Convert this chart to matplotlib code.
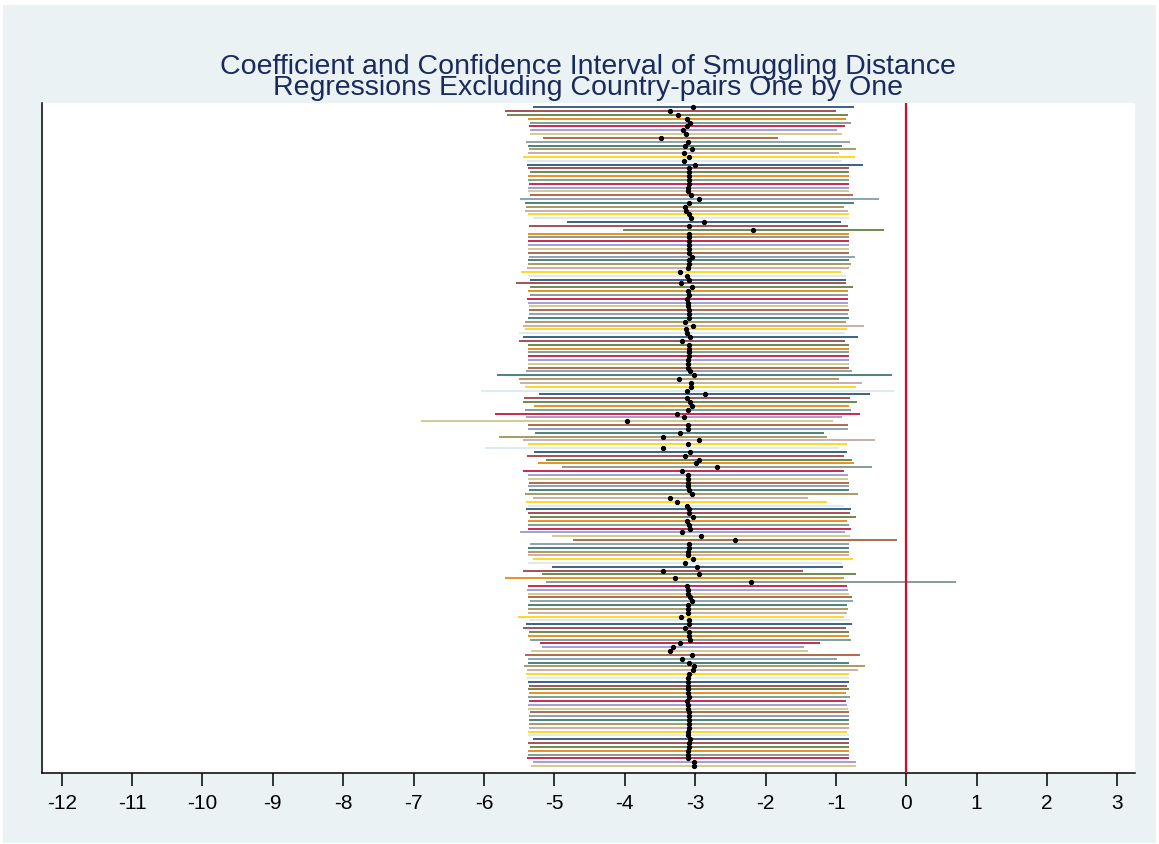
import matplotlib
matplotlib.use("Agg")
import matplotlib.pyplot as plt
from matplotlib.patches import Rectangle

# Stata s2color pens, cycled over the specifications
palette = ["#1a476f", "#90353b", "#55752f", "#e37e00", "#6e8e84",
           "#c10534", "#938dd2", "#cac27e", "#a0522d", "#7b92a8",
           "#2d6d66", "#9c8847", "#bfa19c", "#ffd200", "#d9e6eb"]

# point estimates, listed from the top specification to the bottom one
coef = [-3.03, -3.35, -3.25, -3.12, -3.07, -3.11, -3.17, -3.13, -3.49, -3.10,
        -3.14, -3.04, -3.16, -3.09, -3.16, -3.00, -3.09, -3.08, -3.09, -3.09,
        -3.09, -3.10, -3.10, -3.06, -2.94, -3.08, -3.14, -3.13, -3.09, -3.06,
        -2.88, -3.09, -2.18, -3.09, -3.09, -3.09, -3.09, -3.09, -3.09, -3.04,
        -3.09, -3.08, -3.10, -3.21, -3.12, -3.09, -3.20, -3.05, -3.10, -3.09,
        -3.11, -3.10, -3.10, -3.09, -3.09, -3.09, -3.14, -3.03, -3.13, -3.11,
        -3.07, -3.19, -3.09, -3.09, -3.09, -3.09, -3.10, -3.10, -3.10, -3.07,
        -3.01, -3.23, -3.06, -3.06, -3.11, -2.86, -3.12, -3.07, -3.05, -3.10,
        -3.26, -3.16, -3.97, -3.10, -3.10, -3.22, -3.46, -2.95, -3.10, -3.46,
        -3.07, -3.14, -2.95, -2.99, -2.69, -3.18, -3.10, -3.10, -3.10, -3.10,
        -3.09, -3.05, -3.35, -3.26, -3.12, -3.09, -3.09, -3.03, -3.11, -3.09,
        -3.07, -3.18, -2.92, -2.43, -3.08, -3.09, -3.10, -3.10, -3.03, -3.14,
        -2.97, -3.45, -2.95, -3.29, -2.21, -3.11, -3.10, -3.10, -3.07, -3.04,
        -3.10, -3.10, -3.10, -3.20, -3.08, -3.08, -3.15, -3.09, -3.09, -3.07,
        -3.21, -3.32, -3.36, -3.04, -3.18, -3.09, -3.01, -3.03, -3.09, -3.10,
        -3.10, -3.10, -3.10, -3.10, -3.08, -3.11, -3.10, -3.10, -3.09, -3.09,
        -3.09, -3.09, -3.09, -3.10, -3.10, -3.07, -3.09, -3.09, -3.10, -3.10,
        -3.10, -3.02, -3.02]

# lower bounds of the confidence intervals
lower = [-5.31, -5.70, -5.67, -5.38, -5.35, -5.36, -5.34, -5.35, -5.16, -5.40,
         -5.37, -5.36, -5.37, -5.45, -5.39, -5.39, -5.38, -5.35, -5.38, -5.38,
         -5.36, -5.37, -5.37, -5.35, -5.49, -5.42, -5.40, -5.42, -5.38, -5.30,
         -4.82, -5.36, -4.03, -5.37, -5.37, -5.37, -5.37, -5.37, -5.37, -5.36,
         -5.38, -5.38, -5.39, -5.48, -5.38, -5.34, -5.54, -5.35, -5.38, -5.35,
         -5.39, -5.37, -5.36, -5.36, -5.36, -5.37, -5.42, -5.45, -5.42, -5.50,
         -5.44, -5.50, -5.38, -5.38, -5.37, -5.38, -5.38, -5.38, -5.38, -5.40,
         -5.81, -5.50, -5.49, -5.42, -6.04, -5.22, -5.43, -5.44, -5.29, -5.42,
         -5.85, -5.41, -6.90, -5.38, -5.38, -5.27, -5.79, -5.45, -5.37, -5.99,
         -5.29, -5.39, -5.12, -5.23, -4.89, -5.45, -5.38, -5.38, -5.36, -5.38,
         -5.36, -5.42, -5.31, -5.40, -5.37, -5.40, -5.38, -5.34, -5.38, -5.37,
         -5.37, -5.49, -5.03, -4.73, -5.34, -5.37, -5.37, -5.37, -5.31, -5.38,
         -5.03, -5.44, -5.18, -5.70, -5.12, -5.38, -5.39, -5.38, -5.38, -5.34,
         -5.37, -5.37, -5.37, -5.51, -5.36, -5.41, -5.45, -5.36, -5.37, -5.35,
         -5.20, -5.17, -5.33, -5.42, -5.38, -5.37, -5.43, -5.39, -5.40, -5.39,
         -5.38, -5.36, -5.37, -5.36, -5.37, -5.36, -5.37, -5.37, -5.35, -5.36,
         -5.36, -5.36, -5.36, -5.38, -5.38, -5.31, -5.37, -5.35, -5.37, -5.37,
         -5.39, -5.31, -5.33]

# upper bounds of the confidence intervals
upper = [-0.74, -1.00, -0.83, -0.86, -0.79, -0.87, -0.99, -0.92, -1.82, -0.80,
         -0.92, -0.72, -0.95, -0.73, -0.92, -0.61, -0.82, -0.82, -0.82, -0.82,
         -0.82, -0.82, -0.82, -0.76, -0.39, -0.74, -0.88, -0.83, -0.82, -0.82,
         -0.93, -0.83, -0.32, -0.82, -0.82, -0.82, -0.82, -0.82, -0.82, -0.73,
         -0.82, -0.79, -0.82, -0.93, -0.86, -0.86, -0.86, -0.76, -0.83, -0.83,
         -0.83, -0.83, -0.83, -0.82, -0.83, -0.82, -0.86, -0.60, -0.84, -0.87,
         -0.68, -0.87, -0.82, -0.82, -0.82, -0.82, -0.82, -0.82, -0.82, -0.77,
         -0.20, -0.95, -0.63, -0.71, -0.18, -0.51, -0.80, -0.70, -0.82, -0.78,
         -0.66, -0.92, -1.04, -0.83, -0.83, -1.17, -1.13, -0.44, -0.84, -0.95,
         -0.84, -0.89, -0.77, -0.74, -0.48, -0.89, -0.83, -0.83, -0.82, -0.82,
         -0.82, -0.68, -1.39, -1.13, -0.88, -0.78, -0.80, -0.71, -0.84, -0.82,
         -0.79, -0.87, -0.80, -0.13, -0.82, -0.82, -0.82, -0.82, -0.75, -0.91,
         -0.90, -1.47, -0.72, -0.89, 0.71, -0.84, -0.83, -0.82, -0.77, -0.75,
         -0.84, -0.83, -0.84, -0.88, -0.80, -0.77, -0.85, -0.82, -0.82, -0.79,
         -1.22, -1.46, -1.39, -0.66, -0.98, -0.82, -0.59, -0.68, -0.81, -0.81,
         -0.81, -0.84, -0.82, -0.85, -0.80, -0.85, -0.84, -0.83, -0.82, -0.82,
         -0.82, -0.82, -0.82, -0.84, -0.82, -0.82, -0.82, -0.82, -0.82, -0.82,
         -0.82, -0.72, -0.71]

xticks = list(range(-12, 4))

title = ("Coefficient and Confidence Interval of Smuggling Distance\n"
         "Regressions Excluding Country-pairs One by One")

plt.rcParams["font.family"] = ["Liberation Sans", "DejaVu Sans"]

fig = plt.figure(figsize=(11.59, 8.44), dpi=100)
fig.patch.set_facecolor("white")
fig.add_artist(Rectangle((3 / 1159, 1 / 844), 1153 / 1159, 838 / 844,
                         transform=fig.transFigure, facecolor="#eaf2f3",
                         edgecolor="none", zorder=0))

ax = fig.add_axes([42 / 1159, 1 - 773 / 844, 1093 / 1159, 670 / 844])
ax.set_facecolor("white")

n = len(coef)
ys = [n - i for i in range(n)]
for i in range(n):
    ax.hlines(ys[i], lower[i], upper[i], color=palette[i % len(palette)],
              linewidth=1.2, zorder=2)
ax.plot(coef, ys, "o", color="black", markersize=2.8, zorder=3)
ax.axvline(0, color="#c8102e", linewidth=1.6, zorder=4)

ax.set_xlim(-12.28, 3.25)
ax.set_ylim(-0.83, n + 1.1)
ax.set_xticks(xticks)
ax.set_xticklabels([str(t) for t in xticks], fontsize=15)
ax.set_yticks([])
ax.tick_params(axis="x", length=9, width=1.1, pad=6, colors="black")
for side in ("top", "right"):
    ax.spines[side].set_visible(False)
for side in ("left", "bottom"):
    ax.spines[side].set_linewidth(1.1)
    ax.spines[side].set_color("black")

# two-line title, set with tight leading
fig.text(588 / 1159, 1 - 101 / 844, title, ha="center", va="bottom",
         fontsize=20.5, color="#1a2a5e", linespacing=0.74)

fig.savefig("out.png", dpi=100)
